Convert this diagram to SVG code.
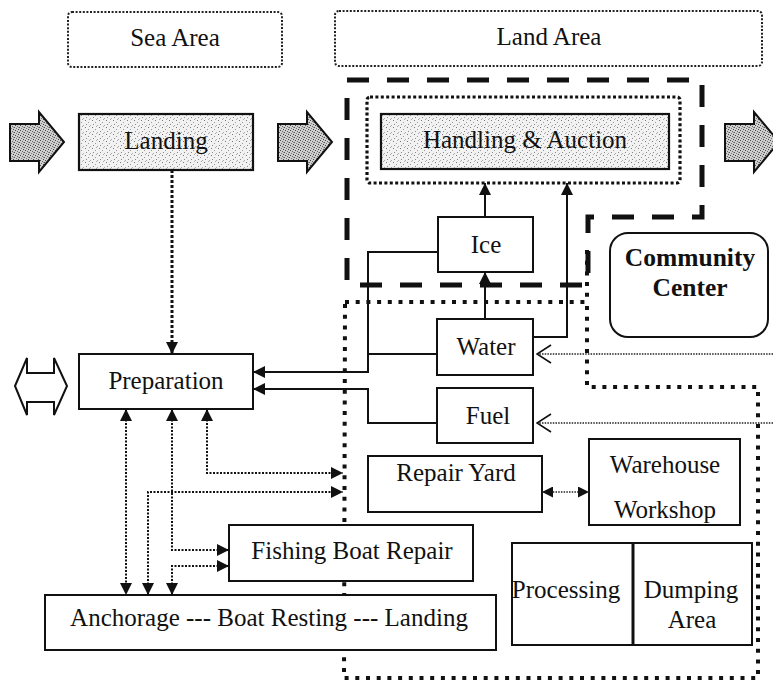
<svg xmlns="http://www.w3.org/2000/svg" width="773" height="683" viewBox="0 0 773 683">
  <defs>
    <style>
      .txt { font-family: "Liberation Serif", "Times New Roman", serif; font-size: 25px; fill: #111; text-anchor: middle; }
      .bold { font-weight: bold; font-size: 25.5px; }
      .box { fill: #fff; stroke: #111; stroke-width: 2; }
      .shade { fill: url(#speckLight); stroke: #111; stroke-width: 2.2; }
      .area { fill: none; stroke: #222; stroke-width: 2; stroke-dasharray: 2 1.6; }
      .zoneDash { fill: none; stroke: #111; stroke-width: 5; stroke-dasharray: 22 18; }
      .zoneDot { fill: none; stroke: #111; stroke-width: 4; stroke-dasharray: 4 6.7; }
      .auctionDot { fill: none; stroke: #111; stroke-width: 3.2; stroke-dasharray: 3 2.4; }
      .wire { fill: none; stroke: #111; stroke-width: 2; }
      .dotBold { fill: none; stroke: #111; stroke-width: 3; stroke-dasharray: 3 2; }
      .dotThin { fill: none; stroke: #111; stroke-width: 2; stroke-dasharray: 2 1.5; }
      .hair { fill: none; stroke: #222; stroke-width: 1.3; stroke-dasharray: 1.5 1.2; }
      .block { fill: url(#speckDark); stroke: #111; stroke-width: 2; }
      .hollow { fill: #fff; stroke: #111; stroke-width: 2; }
    </style>
    <pattern id="speckLight" width="7" height="7" patternUnits="userSpaceOnUse">
      <rect width="7" height="7" fill="#f2f2f2"/>
      <rect x="1" y="1" width="1" height="1" fill="#777"/>
      <rect x="4" y="3" width="1" height="1" fill="#999"/>
      <rect x="2" y="5" width="1" height="1" fill="#888"/>
      <rect x="6" y="6" width="1" height="1" fill="#aaa"/>
      <rect x="5" y="0" width="1" height="1" fill="#aaa"/>
    </pattern>
    <pattern id="speckDark" width="5" height="5" patternUnits="userSpaceOnUse">
      <rect width="5" height="5" fill="#cfcfcf"/>
      <rect x="0" y="0" width="1" height="1" fill="#444"/>
      <rect x="2" y="1" width="1" height="1" fill="#666"/>
      <rect x="4" y="2" width="1" height="1" fill="#555"/>
      <rect x="1" y="3" width="1" height="1" fill="#777"/>
      <rect x="3" y="4" width="1" height="1" fill="#444"/>
      <rect x="3" y="2" width="1" height="1" fill="#999"/>
    </pattern>
    <marker id="tri" viewBox="0 0 12 12" refX="12" refY="6" markerWidth="12" markerHeight="12" markerUnits="userSpaceOnUse" orient="auto-start-reverse">
      <path d="M0,0 L12,6 L0,12 Z" fill="#111"/>
    </marker>
    <marker id="triSmall" viewBox="0 0 12 12" refX="12" refY="6" markerWidth="11" markerHeight="11" markerUnits="userSpaceOnUse" orient="auto-start-reverse">
      <path d="M0,0 L12,6 L0,12 Z" fill="#111"/>
    </marker>
    <marker id="vee" viewBox="0 0 16 20" refX="15" refY="10" markerWidth="16" markerHeight="20" markerUnits="userSpaceOnUse" orient="auto">
      <path d="M1,1 L15,10 L1,19" fill="none" stroke="#111" stroke-width="1.6"/>
    </marker>
  </defs>

  <!-- zone outlines -->
  <g id="zones">
    <rect class="area" x="68" y="12" width="214" height="55" rx="4"/>
    <rect class="area" x="335" y="11" width="427" height="55" rx="4"/>
    <path class="zoneDash" d="M347,80 H702 V217 H588 V285 H347 Z"/>
    <path class="zoneDot" d="M345,302 H587 V387 H758 V678 H344 Z"/>
    <path class="zoneDot" d="M587,250 V302"/>
  </g>

  <!-- nodes -->
  <g id="sea-area">
    <text class="txt" x="175" y="46">Sea Area</text>
  </g>
  <g id="land-area">
    <text class="txt" x="549" y="45">Land Area</text>
  </g>

  <g id="flow-in">
    <path class="block" d="M10,124 H39 V112 L64,142 L39,172 V161 H10 Z"/>
  </g>
  <g id="landing">
    <rect class="shade" x="79" y="114" width="174" height="56"/>
    <text class="txt" x="166" y="149">Landing</text>
  </g>
  <g id="flow-mid">
    <path class="block" d="M278,124 H307 V112 L332,142 L307,172 V161 H278 Z"/>
  </g>
  <g id="handling-auction">
    <rect class="auctionDot" x="367" y="97" width="313" height="86" rx="3"/>
    <rect class="shade" x="381" y="114" width="288" height="55"/>
    <text class="txt" x="525" y="148">Handling &amp; Auction</text>
  </g>
  <g id="flow-out">
    <path class="block" d="M725,124 H754 V112 L779,142 L754,172 V161 H725 Z"/>
  </g>

  <g id="ice">
    <rect class="box" x="438" y="217" width="95" height="55"/>
    <text class="txt" x="486" y="253">Ice</text>
  </g>
  <g id="water">
    <rect class="box" x="437" y="319" width="96" height="56"/>
    <text class="txt" x="486" y="355">Water</text>
  </g>
  <g id="fuel">
    <rect class="box" x="437" y="388" width="96" height="55"/>
    <text class="txt" x="488" y="424">Fuel</text>
  </g>
  <g id="community-center">
    <rect class="box" x="610" y="233" width="158" height="104" rx="18" stroke-width="3"/>
    <text class="txt bold" x="690" y="266">Community</text>
    <text class="txt bold" x="690" y="296">Center</text>
  </g>

  <g id="exchange">
    <path class="hollow" d="M15,386 L27,358 V373 H54 V358 L67,386 L54,415 V402 H27 V415 Z"/>
  </g>
  <g id="preparation">
    <rect class="box" x="79" y="354" width="174" height="55"/>
    <text class="txt" x="166" y="389">Preparation</text>
  </g>

  <g id="repair-yard">
    <rect class="box" x="368" y="456" width="174" height="56"/>
    <text class="txt" x="456" y="481">Repair Yard</text>
  </g>
  <g id="warehouse-workshop">
    <rect class="box" x="589" y="439" width="151" height="86"/>
    <text class="txt" x="665" y="473">Warehouse</text>
    <text class="txt" x="665" y="518">Workshop</text>
  </g>
  <g id="fishing-boat-repair">
    <rect class="box" x="229" y="525" width="244" height="56"/>
    <text class="txt" x="352" y="559">Fishing Boat Repair</text>
  </g>
  <g id="anchorage">
    <rect class="box" x="45" y="595" width="451" height="55"/>
    <text class="txt" x="269" y="626">Anchorage --- Boat Resting --- Landing</text>
  </g>
  <g id="processing-dumping">
    <rect class="box" x="512" y="543" width="240" height="102"/>
    <line x1="633" y1="543" x2="633" y2="645" stroke="#111" stroke-width="3"/>
    <text class="txt" x="566" y="598">Processing</text>
    <text class="txt" x="691" y="598">Dumping</text>
    <text class="txt" x="692" y="628">Area</text>
  </g>

  <!-- connectors -->
  <g id="connectors">
    <!-- landing to preparation -->
    <path class="dotBold" d="M172,170 V354" marker-end="url(#tri)"/>
    <!-- ice and water feed the auction hall -->
    <path class="wire" d="M485,217 V183" marker-end="url(#tri)"/>
    <path class="wire" d="M485,319 V272" marker-end="url(#tri)"/>
    <path class="wire" d="M533,337 H567 V183" marker-end="url(#tri)"/>
    <!-- supplies to preparation -->
    <path class="wire" d="M438,252 H368 V372 H253" marker-end="url(#tri)"/>
    <path class="wire" d="M437,354 H368"/>
    <path class="wire" d="M437,423 H368 V389 H253" marker-end="url(#tri)"/>
    <!-- external supply lines -->
    <path class="hair" d="M773,354 H537" marker-end="url(#vee)"/>
    <path class="hair" d="M773,423 H537" marker-end="url(#vee)"/>
    <!-- repair yard and warehouse -->
    <path class="hair" d="M542,492 H589" marker-start="url(#triSmall)" marker-end="url(#triSmall)"/>
    <!-- preparation, repair and anchorage links -->
    <path class="dotThin" d="M126,409 V595" marker-start="url(#tri)" marker-end="url(#tri)"/>
    <path class="dotThin" d="M207,409 V473 H343" marker-start="url(#tri)" marker-end="url(#tri)"/>
    <path class="dotThin" d="M148,595 V492 H343" marker-start="url(#tri)" marker-end="url(#tri)"/>
    <path class="dotThin" d="M172,409 V550 H229" marker-start="url(#tri)" marker-end="url(#tri)"/>
    <path class="dotThin" d="M172,595 V566 H229" marker-start="url(#tri)" marker-end="url(#tri)"/>
  </g>
</svg>
